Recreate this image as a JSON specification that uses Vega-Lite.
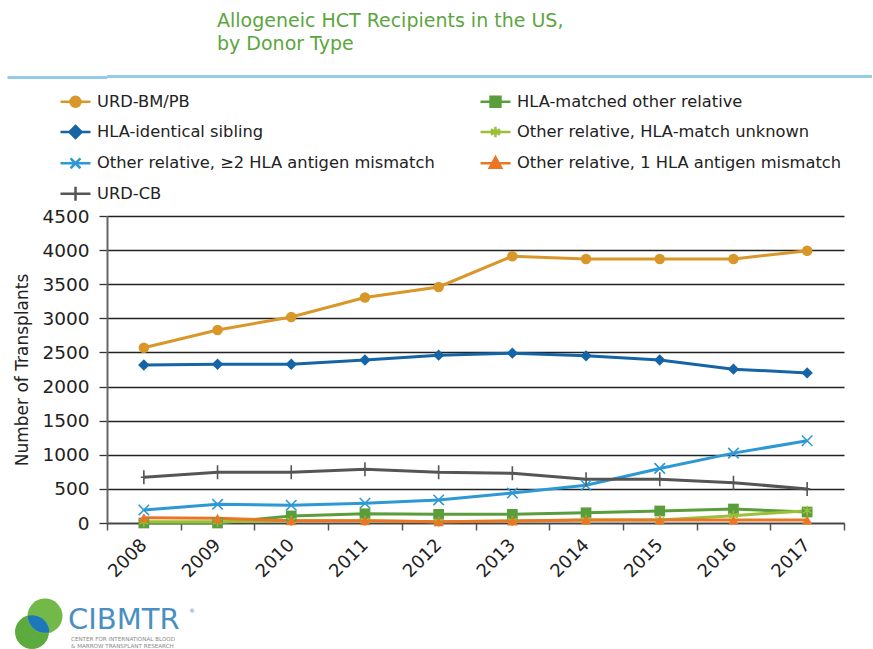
{
  "$schema": "https://vega.github.io/schema/vega-lite/v6.json",
  "padding": {"left": 5, "top": 11, "right": 0, "bottom": 0},
  "background": "white",
  "config": {"font": "DejaVu Sans", "view": {"stroke": null}},
  "title": {
    "text": ["Allogeneic HCT Recipients in the US,", "by Donor Type"],
    "anchor": "start", "frame": "group", "dx": 110, "fontSize": 19, "fontWeight": "normal",
    "color": "#5ba640", "lineHeight": 23, "offset": 17, "font": "DejaVu Sans"
  },
  "spacing": 3,
  "resolve": {"legend": {"color": "independent"}, "scale": {"color": "independent", "x": "independent", "y": "independent"}},
  "vconcat": [
    {
      "width": 765, "height": 3,
      "view": {"fill": "#95cbe8", "stroke": null},
      "data": {"values": [{}]},
      "mark": {"type": "text", "text": ""},
      "encoding": {
        "y": {"datum": 0, "type": "quantitative", "scale": {"domain": [-1, 1], "nice": false},
              "axis": {"values": [0], "labels": false, "domain": false, "grid": false, "title": null,
                       "tickSize": 100, "tickWidth": 3, "tickColor": "#95cbe8"}}
      }
    },
    {
      "width": 737, "height": 307,
      "data": {"values": [
        {"year": "2008", "series": "URD-BM/PB", "value": 2570},
        {"year": "2009", "series": "URD-BM/PB", "value": 2829},
        {"year": "2010", "series": "URD-BM/PB", "value": 3020},
        {"year": "2011", "series": "URD-BM/PB", "value": 3305},
        {"year": "2012", "series": "URD-BM/PB", "value": 3460},
        {"year": "2013", "series": "URD-BM/PB", "value": 3910},
        {"year": "2014", "series": "URD-BM/PB", "value": 3870},
        {"year": "2015", "series": "URD-BM/PB", "value": 3870},
        {"year": "2016", "series": "URD-BM/PB", "value": 3870},
        {"year": "2017", "series": "URD-BM/PB", "value": 3990},
        {"year": "2008", "series": "HLA-identical sibling", "value": 2316},
        {"year": "2009", "series": "HLA-identical sibling", "value": 2326},
        {"year": "2010", "series": "HLA-identical sibling", "value": 2326},
        {"year": "2011", "series": "HLA-identical sibling", "value": 2390},
        {"year": "2012", "series": "HLA-identical sibling", "value": 2460},
        {"year": "2013", "series": "HLA-identical sibling", "value": 2490},
        {"year": "2014", "series": "HLA-identical sibling", "value": 2450},
        {"year": "2015", "series": "HLA-identical sibling", "value": 2390},
        {"year": "2016", "series": "HLA-identical sibling", "value": 2255},
        {"year": "2017", "series": "HLA-identical sibling", "value": 2200},
        {"year": "2008", "series": "Other relative, ≥2 HLA antigen mismatch", "value": 190},
        {"year": "2009", "series": "Other relative, ≥2 HLA antigen mismatch", "value": 274},
        {"year": "2010", "series": "Other relative, ≥2 HLA antigen mismatch", "value": 260},
        {"year": "2011", "series": "Other relative, ≥2 HLA antigen mismatch", "value": 289},
        {"year": "2012", "series": "Other relative, ≥2 HLA antigen mismatch", "value": 338},
        {"year": "2013", "series": "Other relative, ≥2 HLA antigen mismatch", "value": 440},
        {"year": "2014", "series": "Other relative, ≥2 HLA antigen mismatch", "value": 553},
        {"year": "2015", "series": "Other relative, ≥2 HLA antigen mismatch", "value": 800},
        {"year": "2016", "series": "Other relative, ≥2 HLA antigen mismatch", "value": 1024},
        {"year": "2017", "series": "Other relative, ≥2 HLA antigen mismatch", "value": 1205},
        {"year": "2008", "series": "URD-CB", "value": 670},
        {"year": "2009", "series": "URD-CB", "value": 743},
        {"year": "2010", "series": "URD-CB", "value": 743},
        {"year": "2011", "series": "URD-CB", "value": 787},
        {"year": "2012", "series": "URD-CB", "value": 743},
        {"year": "2013", "series": "URD-CB", "value": 728},
        {"year": "2014", "series": "URD-CB", "value": 640},
        {"year": "2015", "series": "URD-CB", "value": 640},
        {"year": "2016", "series": "URD-CB", "value": 590},
        {"year": "2017", "series": "URD-CB", "value": 500},
        {"year": "2008", "series": "HLA-matched other relative", "value": 0},
        {"year": "2009", "series": "HLA-matched other relative", "value": 0},
        {"year": "2010", "series": "HLA-matched other relative", "value": 103},
        {"year": "2011", "series": "HLA-matched other relative", "value": 135},
        {"year": "2012", "series": "HLA-matched other relative", "value": 127},
        {"year": "2013", "series": "HLA-matched other relative", "value": 127},
        {"year": "2014", "series": "HLA-matched other relative", "value": 150},
        {"year": "2015", "series": "HLA-matched other relative", "value": 176},
        {"year": "2016", "series": "HLA-matched other relative", "value": 205},
        {"year": "2017", "series": "HLA-matched other relative", "value": 161},
        {"year": "2008", "series": "Other relative, HLA-match unknown", "value": 20},
        {"year": "2009", "series": "Other relative, HLA-match unknown", "value": 20},
        {"year": "2010", "series": "Other relative, HLA-match unknown", "value": 34},
        {"year": "2011", "series": "Other relative, HLA-match unknown", "value": 34},
        {"year": "2012", "series": "Other relative, HLA-match unknown", "value": 19},
        {"year": "2013", "series": "Other relative, HLA-match unknown", "value": 29},
        {"year": "2014", "series": "Other relative, HLA-match unknown", "value": 44},
        {"year": "2015", "series": "Other relative, HLA-match unknown", "value": 44},
        {"year": "2016", "series": "Other relative, HLA-match unknown", "value": 108},
        {"year": "2017", "series": "Other relative, HLA-match unknown", "value": 180},
        {"year": "2008", "series": "Other relative, 1 HLA antigen mismatch", "value": 78},
        {"year": "2009", "series": "Other relative, 1 HLA antigen mismatch", "value": 68},
        {"year": "2010", "series": "Other relative, 1 HLA antigen mismatch", "value": 34},
        {"year": "2011", "series": "Other relative, 1 HLA antigen mismatch", "value": 34},
        {"year": "2012", "series": "Other relative, 1 HLA antigen mismatch", "value": 19},
        {"year": "2013", "series": "Other relative, 1 HLA antigen mismatch", "value": 29},
        {"year": "2014", "series": "Other relative, 1 HLA antigen mismatch", "value": 44},
        {"year": "2015", "series": "Other relative, 1 HLA antigen mismatch", "value": 44},
        {"year": "2016", "series": "Other relative, 1 HLA antigen mismatch", "value": 44},
        {"year": "2017", "series": "Other relative, 1 HLA antigen mismatch", "value": 44}
      ]},
      "encoding": {
        "x": {
          "field": "year", "type": "ordinal",
          "scale": {"type": "band", "paddingInner": 0, "paddingOuter": 0},
          "axis": {
            "title": null, "labelAngle": -45, "labelFontSize": 18, "labelColor": "#222",
            "labelPadding": 12, "tickBand": "extent", "tickSize": 7, "tickColor": "#555",
            "tickWidth": 1.5, "domainColor": "#444", "domainWidth": 1.5, "grid": false,
            "labelAlign": "right", "labelBaseline": "middle"
          }
        },
        "y": {
          "field": "value", "type": "quantitative",
          "scale": {"domain": [0, 4500], "nice": false},
          "axis": {
            "title": "Number of Transplants", "format": "d",
            "values": [0, 500, 1000, 1500, 2000, 2500, 3000, 3500, 4000, 4500],
            "grid": true, "gridColor": "#222", "gridWidth": 1.3,
            "domainColor": "#666", "domainWidth": 2, "tickColor": "#333", "tickSize": 8,
            "tickWidth": 1.3, "labelFontSize": 18.5, "labelColor": "#222", "labelPadding": 10,
            "titleFontSize": 17, "titleFontWeight": "normal", "titleColor": "#222",
            "titlePadding": 10
          }
        },
        "color": {
          "field": "series", "type": "nominal", "legend": null,
          "scale": {
            "domain": ["URD-BM/PB", "HLA-matched other relative", "HLA-identical sibling", "Other relative, HLA-match unknown", "Other relative, ≥2 HLA antigen mismatch", "Other relative, 1 HLA antigen mismatch", "URD-CB"],
            "range": ["#d9972a", "#5a9e3b", "#1565a6", "#9cbf3a", "#2e98d5", "#ea7625", "#555555"]
          }
        }
      },
      "layer": [
        {
          "mark": {"type": "line", "strokeWidth": 3},
          "encoding": {
            "color": {
              "field": "series", "type": "nominal",
              "legend": {
                "orient": "none", "legendX": -48, "legendY": -131,
                "direction": "horizontal", "columns": 2, "columnPadding": 40, "rowPadding": 3.4,
                "title": null, "labelFontSize": 16.3, "labelColor": "#222", "labelOffset": 5,
                "labelLimit": 0,
                "labelFont": "DejaVu Sans", "symbolSize": 900, "symbolStrokeWidth": 2.5,
                "encode": {
                  "symbols": {
                    "update": {
                      "shape": {"signal": "['M-1,0H1M-0.33,0A0.33,0.33 0 1,0 0.33,0A0.33,0.33 0 1,0 -0.33,0Z','M-1,0H1M-0.33,-0.33H0.33V0.33H-0.33Z','M-1,0H1M0,-0.4L0.4,0L0,0.4L-0.4,0Z','M-1,0H1M0,-0.35V0.35M-0.3,-0.18L0.3,0.18M-0.3,0.18L0.3,-0.18','M-1,0H1M-0.33,-0.33L0.33,0.33M-0.33,0.33L0.33,-0.33','M-1,0H1M0,-0.4L0.38,0.3H-0.38Z','M-1,0H1M0,-0.47V0.47'][indexof(['URD-BM/PB','HLA-matched other relative','HLA-identical sibling','Other relative, HLA-match unknown','Other relative, ≥2 HLA antigen mismatch','Other relative, 1 HLA antigen mismatch','URD-CB'], datum.value)]"},
                      "fill": {"signal": "['#d9972a','#5a9e3b','#1565a6','#9cbf3a','#2e98d5','#ea7625','#555555'][indexof(['URD-BM/PB','HLA-matched other relative','HLA-identical sibling','Other relative, HLA-match unknown','Other relative, ≥2 HLA antigen mismatch','Other relative, 1 HLA antigen mismatch','URD-CB'], datum.value)]"},
                      "stroke": {"signal": "['#d9972a','#5a9e3b','#1565a6','#9cbf3a','#2e98d5','#ea7625','#555555'][indexof(['URD-BM/PB','HLA-matched other relative','HLA-identical sibling','Other relative, HLA-match unknown','Other relative, ≥2 HLA antigen mismatch','Other relative, 1 HLA antigen mismatch','URD-CB'], datum.value)]"},
                      "strokeWidth": {"value": 2.5},
                      "size": {"value": 900},
                      "opacity": {"value": 1}
                    }
                  }
                }
              }
            }
          }
        },
        {
          "transform": [{"filter": {"field": "series", "equal": "URD-BM/PB"}}],
          "mark": {"type": "point", "filled": true, "shape": "circle", "size": 110, "opacity": 1}
        },
        {
          "transform": [{"filter": {"field": "series", "equal": "HLA-identical sibling"}}],
          "mark": {"type": "point", "filled": true, "shape": "diamond", "size": 130, "opacity": 1}
        },
        {
          "transform": [{"filter": {"field": "series", "equal": "Other relative, ≥2 HLA antigen mismatch"}}],
          "mark": {"type": "point", "filled": false, "shape": "M-1,-1L1,1M-1,1L1,-1", "size": 110, "strokeWidth": 1.6, "opacity": 1}
        },
        {
          "transform": [{"filter": {"field": "series", "equal": "URD-CB"}}],
          "mark": {"type": "point", "filled": false, "shape": "M0,-1.4V1.4M-0.6,0H0.6", "size": 100, "strokeWidth": 1.6, "opacity": 1}
        },
        {
          "transform": [{"filter": {"field": "series", "equal": "HLA-matched other relative"}}],
          "mark": {"type": "point", "filled": true, "shape": "square", "size": 115, "opacity": 1}
        },
        {
          "transform": [{"filter": {"field": "series", "equal": "Other relative, HLA-match unknown"}}],
          "mark": {"type": "point", "filled": false, "shape": "M0,-1V1M-0.87,-0.5L0.87,0.5M-0.87,0.5L0.87,-0.5", "size": 100, "strokeWidth": 1.5, "opacity": 1}
        },
        {
          "transform": [{"filter": {"field": "series", "equal": "Other relative, 1 HLA antigen mismatch"}}],
          "mark": {"type": "point", "filled": true, "shape": "triangle-up", "size": 110, "opacity": 1}
        }
      ]
    },
    {
      "width": 90, "height": 66,
      "data": {"values": [{}]},
      "encoding": {
        "x": {"datum": 0, "type": "quantitative", "scale": {"domain": [0, 90], "nice": false, "zero": false}, "axis": null},
        "y": {"datum": 0, "type": "quantitative", "scale": {"domain": [0, 66], "nice": false, "zero": false, "reverse": true}, "axis": null}
      },
      "layer": [
        {"mark": {"type": "point", "filled": true, "shape": "circle", "size": 1156, "color": "#5dab3f", "opacity": 1},
         "encoding": {"x": {"datum": -75}, "y": {"datum": 48}}},
        {"mark": {"type": "point", "filled": true, "shape": "circle", "size": 1225, "color": "#72b94a", "opacity": 1},
         "encoding": {"x": {"datum": -62}, "y": {"datum": 32}}},
        {"mark": {"type": "point", "filled": true, "shape": "M-0.624,-0.477A1,1 0 0,1 0.624,0.477A1,1 0 0,1 -0.624,-0.477Z", "size": 1197, "color": "#1e76bb", "opacity": 1},
         "encoding": {"x": {"datum": -68.5}, "y": {"datum": 40}}},
        {"mark": {"type": "text", "text": "CIBMTR", "fontSize": 29, "color": "#4a8fc2", "align": "left", "baseline": "alphabetic", "font": "DejaVu Sans"},
         "encoding": {"x": {"datum": -39}, "y": {"datum": 45}}},
        {"mark": {"type": "text", "text": "®", "fontSize": 6, "color": "#4a8fc2", "align": "left", "baseline": "alphabetic"},
         "encoding": {"x": {"datum": 82}, "y": {"datum": 29}}},
        {"mark": {"type": "text", "text": "CENTER FOR INTERNATIONAL BLOOD", "fontSize": 5.6, "color": "#8a8a8a", "align": "left", "baseline": "alphabetic"},
         "encoding": {"x": {"datum": -36}, "y": {"datum": 57}}},
        {"mark": {"type": "text", "text": "& MARROW TRANSPLANT RESEARCH", "fontSize": 5.6, "color": "#8a8a8a", "align": "left", "baseline": "alphabetic"},
         "encoding": {"x": {"datum": -36}, "y": {"datum": 64}}}
      ]
    }
  ]
}
